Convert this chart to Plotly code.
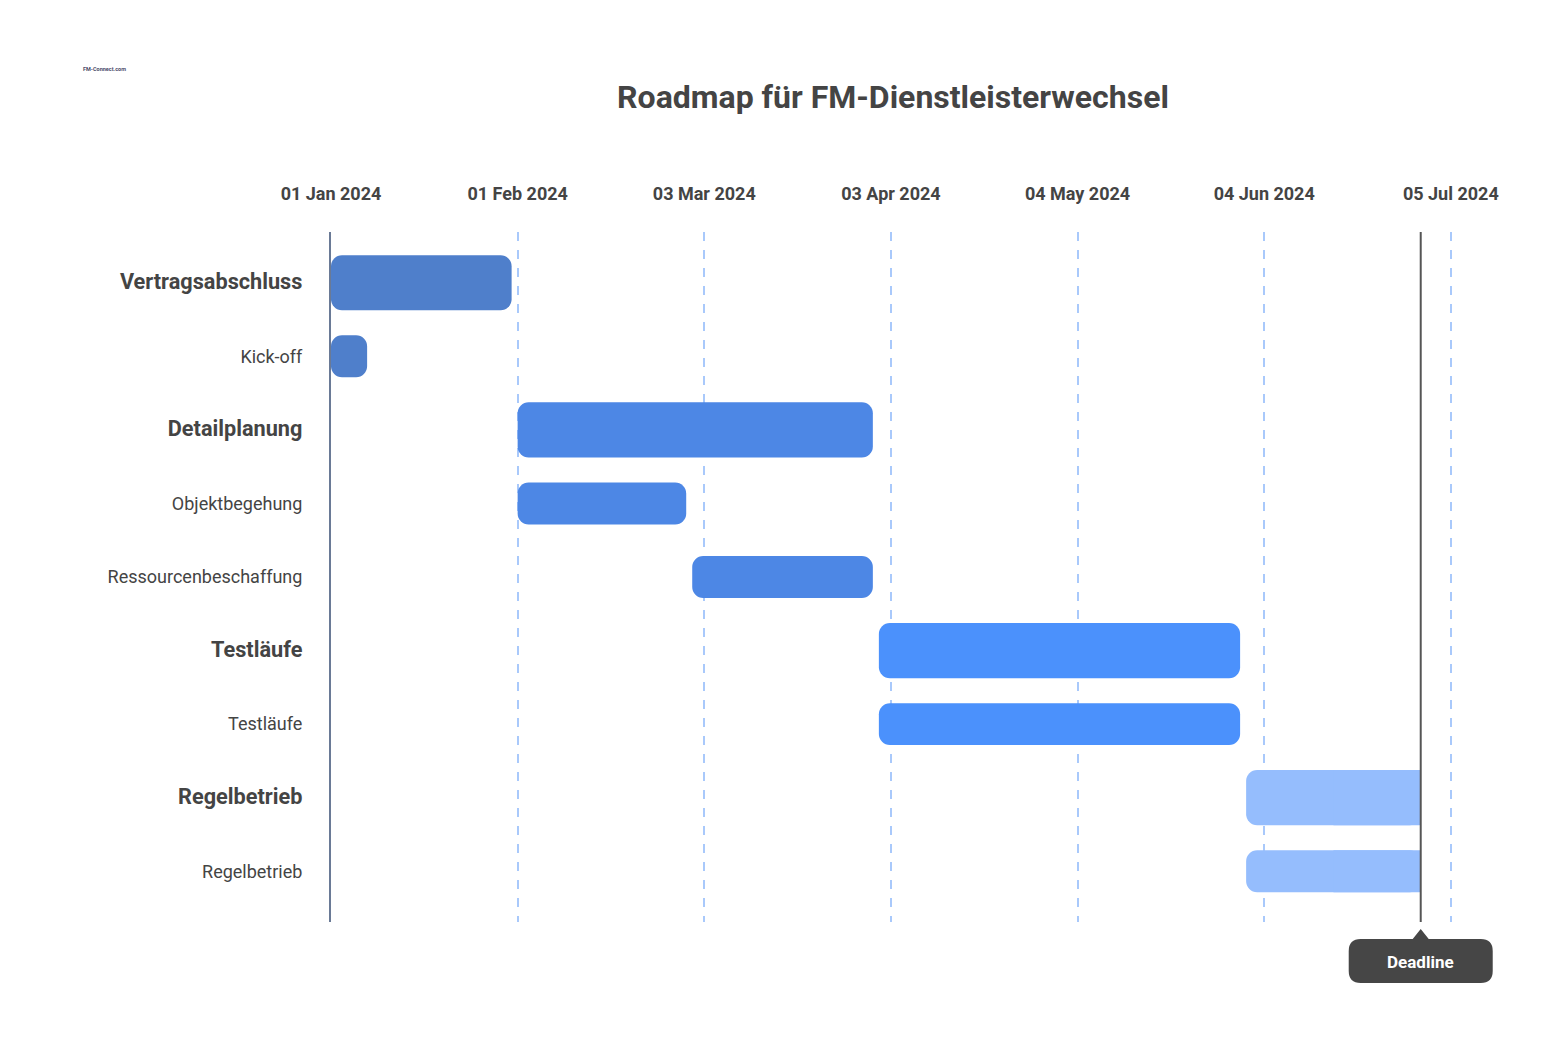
import pandas as pd
import plotly.graph_objects as go

# ---------------- data ----------------
tasks = ["Vertragsabschluss", "Kick-off", "Detailplanung", "Objektbegehung",
         "Ressourcenbeschaffung", "Testläufe", "Testläufe", "Regelbetrieb", "Regelbetrieb"]
is_group = [True, False, True, False, False, True, False, True, False]
starts = ["2024-01-01", "2024-01-01", "2024-02-01", "2024-02-01", "2024-03-01",
          "2024-04-01", "2024-04-01", "2024-06-01", "2024-06-01"]
ends = ["2024-01-31", "2024-01-07", "2024-03-31", "2024-02-29", "2024-03-31",
        "2024-05-31", "2024-05-31", "2024-06-30", "2024-06-30"]
colors = ["#4f7fcb", "#4f7fcb", "#4d87e5", "#4d87e5", "#4d87e5",
          "#4b91fc", "#4b91fc", "#95bdfd", "#95bdfd"]
tick_dates = ["2024-01-01", "2024-02-01", "2024-03-03", "2024-04-03",
              "2024-05-04", "2024-06-04", "2024-07-05"]
tick_labels = ["01 Jan 2024", "01 Feb 2024", "03 Mar 2024", "03 Apr 2024",
               "04 May 2024", "04 Jun 2024", "05 Jul 2024"]
deadline = "2024-06-30"
title = "Roadmap für FM-Dienstleisterwechsel"
logo_text = "FM-Connect.com"

# --------------- helpers ---------------
origin = pd.Timestamp("2024-01-01")
def day(d):
    return (pd.Timestamp(d) - origin).days

s = [day(d) for d in starts]
e = [day(d) for d in ends]
dur = [b - a for a, b in zip(s, e)]
mid = [(a + b) / 2 for a, b in zip(s, e)]
half = [(b - a) / 2 for a, b in zip(s, e)]
ypos = list(range(len(tasks)))
widths = [0.75 if g else 0.57 for g in is_group]
dl = day(deadline)
cut = [b >= dl for b in e]

FONT = "Roboto"
TXT = "#444444"

# page offset of the plot div (body margin)
OFF = 8
W, H = 1558 - 2 * OFF, 1055 - 2 * OFF
L, T, R, B = 331 - OFF, 232 - OFF, 1502 - OFF, 922 - OFF
PW, PH = R - L, B - T

fig = go.Figure()
# full rounded bars
fig.add_trace(go.Bar(orientation="h", y=ypos, x=dur, base=s,
                     width=widths, marker=dict(color=colors, cornerradius=11, line=dict(width=0)),
                     showlegend=False, hoverinfo="skip"))
# square right part for bars cut at the deadline
ic = [i for i in range(len(tasks)) if cut[i]]
fig.add_trace(go.Bar(orientation="h", y=[ypos[i] for i in ic], x=[half[i] for i in ic],
                     base=[mid[i] for i in ic], width=[widths[i] for i in ic],
                     marker=dict(color=[colors[i] for i in ic], line=dict(width=0)),
                     showlegend=False, hoverinfo="skip"))

ticktext_y = []
for t, g in zip(tasks, is_group):
    if g:
        ticktext_y.append(f"<span style='font-size:21.7px'><b>{t}</b></span>")
    else:
        ticktext_y.append(f"<span style='font-size:18px'>{t}</span>")

fig.update_layout(
    width=W, height=H,
    margin=dict(l=L, r=W - R, t=T, b=H - B),
    paper_bgcolor="white", plot_bgcolor="white",
    barmode="overlay",
    font=dict(family=FONT, color=TXT),
    title=dict(text=f"<b>{title}</b>", x=(893 - OFF) / W, xref="container", xanchor="center",
               y=1 - (97 - OFF) / H, yref="container", yanchor="middle",
               font=dict(size=32, color=TXT, family=FONT)),
    xaxis=dict(range=[0, 194.5], side="top", tickvals=[day(d) for d in tick_dates],
               ticktext=[f"<b>{t}</b>" for t in tick_labels],
               tickfont=dict(size=18, color=TXT, family=FONT),
               showgrid=True, gridcolor="#a9c9fb", gridwidth=1.5, griddash="dash",
               zeroline=False, showline=False, ticks="", ticklabelstandoff=27),
    yaxis=dict(range=[8.69, -0.69], tickvals=ypos, ticktext=ticktext_y,
               tickfont=dict(size=18, color=TXT, family=FONT),
               showgrid=False, zeroline=False, showline=True, linecolor="#6a7a96",
               linewidth=2, ticks="", ticklabelstandoff=23),
)

# deadline line
fig.add_shape(type="line", xref="x", yref="paper", x0=dl, x1=dl, y0=0, y1=1,
              line=dict(color="#555555", width=2), layer="above")
# deadline badge (rounded box + pointer), sized in pixels around the deadline date
r = 12
box = (f"M -8,-17 L 0,-7 L 8,-17 Z "
       f"M {-72 + r},-17 L {72 - r},-17 Q 72,-17 72,{-17 - r} L 72,{-61 + r} Q 72,-61 {72 - r},-61 "
       f"L {-72 + r},-61 Q -72,-61 -72,{-61 + r} L -72,{-17 - r} Q -72,-17 {-72 + r},-17 Z")
fig.add_shape(type="path", xref="x", yref="paper", xsizemode="pixel", ysizemode="pixel",
              xanchor=dl, yanchor=0, path=box, fillcolor="#464646",
              line=dict(width=0), layer="above")
fig.add_annotation(x=dl, xref="x", y=0, yref="paper", yshift=-40, showarrow=False,
                   text="<b>Deadline</b>", font=dict(size=17, color="white", family=FONT),
                   xanchor="center", yanchor="middle")

# logo (text stand-in)
fig.add_annotation(x=(104 - 331) / PW, xref="paper", y=(922 - 69) / PH, yref="paper",
                   text=f"<b>{logo_text}</b>", showarrow=False,
                   font=dict(size=5.5, color="#4a4a6a", family=FONT),
                   xanchor="center", yanchor="middle")

fig.write_html("out.html")
